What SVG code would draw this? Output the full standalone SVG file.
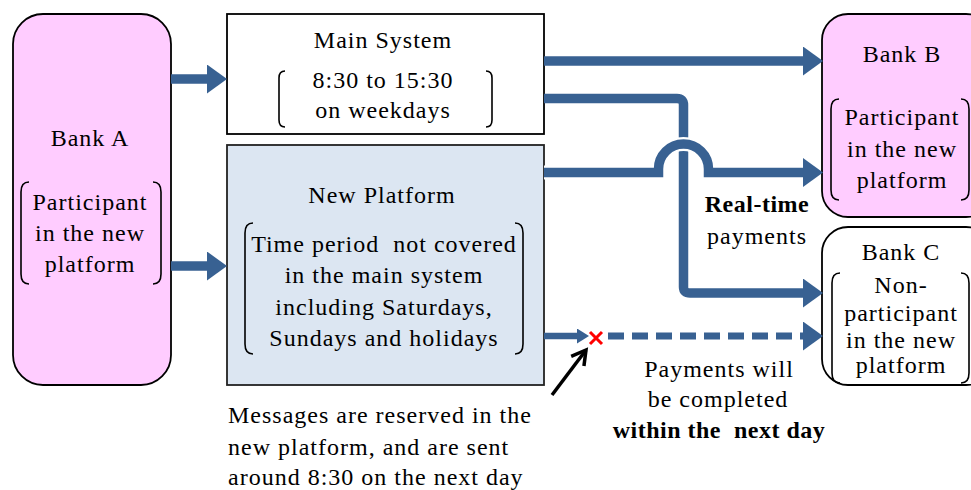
<svg xmlns="http://www.w3.org/2000/svg" width="971" height="490" viewBox="0 0 971 490">
<defs>
<style>
.t{font-family:"Liberation Serif","Times New Roman",serif;font-size:24px;letter-spacing:1px;fill:#000;text-anchor:middle}
.l{text-anchor:start}
.b{font-weight:bold;letter-spacing:0.5px}
.br{fill:none;stroke:#000;stroke-width:1.6}
.bank{stroke:#000;stroke-width:1.8}
.ln{fill:none;stroke:#386192;stroke-width:9.5}
</style>
<marker id="ah" markerUnits="userSpaceOnUse" markerWidth="20" markerHeight="30" refX="0" refY="14.5" orient="auto">
<path d="M0,0 L20,14.5 L0,29 z" fill="#386192"/>
</marker>
<marker id="ahs" markerUnits="userSpaceOnUse" markerWidth="12" markerHeight="16" refX="0" refY="7.5" orient="auto">
<path d="M0,0 L12,7.5 L0,15 z" fill="#386192"/>
</marker>
<marker id="ahk" markerUnits="userSpaceOnUse" markerWidth="20" markerHeight="22" refX="16" refY="10" orient="auto">
<path d="M2,2 L16,10 L2,18" fill="none" stroke="#000" stroke-width="3.5"/>
</marker>
</defs>
<rect width="971" height="490" fill="#fff"/>

<g id="bankA">
<rect class="bank" x="13" y="14" width="158" height="371" rx="30" fill="#FFCCFF"/>
<text class="t" x="90" y="146">Bank A</text>
<path class="br" d="M29,182 Q21,182 21,192 V274 Q21,284 29,284"/>
<path class="br" d="M153,182 Q161,182 161,192 V274 Q161,284 153,284"/>
<text class="t" x="90" y="210">Participant</text>
<text class="t" x="90" y="241">in the new</text>
<text class="t" x="90" y="272">platform</text>
</g>

<g id="mainSystem">
<rect x="227" y="14" width="317" height="120" fill="#fff" stroke="#000" stroke-width="1.8"/>
<text class="t" x="383" y="48">Main System</text>
<path class="br" d="M285,71 Q279,71 279,78 V120 Q279,127 285,127"/>
<path class="br" d="M486,71 Q492,71 492,78 V120 Q492,127 486,127"/>
<text class="t" x="383" y="88">8:30 to 15:30</text>
<text class="t" x="383" y="118">on weekdays</text>
</g>

<g id="newPlatform">
<rect x="227" y="145" width="317" height="240" fill="#DCE6F2" stroke="#222" stroke-width="1.8"/>
<text class="t" x="382" y="203">New Platform</text>
<path class="br" d="M253,223 Q245,223 245,233 V344 Q245,354 253,354"/>
<path class="br" d="M515,223 Q523,223 523,233 V344 Q523,354 515,354"/>
<text class="t" x="384" y="252" xml:space="preserve">Time period  not covered</text>
<text class="t" x="384" y="283">in the main system</text>
<text class="t" x="384" y="315">including Saturdays,</text>
<text class="t" x="384" y="346">Sundays and holidays</text>
</g>

<g id="bankB">
<rect class="bank" x="822" y="14" width="170" height="203" rx="26" fill="#FFCCFF"/>
<text class="t" x="902" y="62">Bank B</text>
<path class="br" d="M839,99 Q831,99 831,109 V190 Q831,200 839,200"/>
<path class="br" d="M961,99 Q969,99 969,109 V190 Q969,200 961,200"/>
<text class="t" x="902" y="125">Participant</text>
<text class="t" x="902" y="157">in the new</text>
<text class="t" x="902" y="188">platform</text>
</g>

<g id="bankC">
<rect class="bank" x="822" y="227" width="170" height="158" rx="26" fill="#fff"/>
<text class="t" x="901" y="260">Bank C</text>
<path class="br" d="M840,273 Q832,273 832,283 V373 Q832,383 840,383"/>
<path class="br" d="M961,273 Q969,273 969,283 V373 Q969,383 961,383"/>
<text class="t" x="901" y="293">Non-</text>
<text class="t" x="901" y="321">participant</text>
<text class="t" x="901" y="348">in the new</text>
<text class="t" x="901" y="373">platform</text>
</g>

<g id="connectors">
<path class="ln" d="M171,79 H207" marker-end="url(#ah)"/>
<path class="ln" d="M171,266 H207" marker-end="url(#ah)"/>
<path class="ln" d="M544,61 H803" marker-end="url(#ah)"/>
<path class="ln" d="M544,98.5 H677 Q683.5,98.5 683.5,105 V287 Q683.5,293 690,293 H803" marker-end="url(#ah)"/>
<path d="M544,172.5 H658.5 V169 A25,25 0 0 1 708.5,169 V172.5 H803" fill="none" stroke="#fff" stroke-width="14"/>
<path class="ln" d="M544,172.5 H658.5 V169 A25,25 0 0 1 708.5,169 V172.5 H803" marker-end="url(#ah)"/>
<path d="M544,336 H577" fill="none" stroke="#386192" stroke-width="6.5" marker-end="url(#ahs)"/>
<path d="M608,336 H803" fill="none" stroke="#386192" stroke-width="7" stroke-dasharray="16 8" marker-end="url(#ah)"/>
<path d="M590,332 L602,344 M602,332 L590,344" stroke="#FF0000" stroke-width="3"/>
<path d="M552,395 L586,350" fill="none" stroke="#000" stroke-width="3.5" marker-end="url(#ahk)"/>
</g>

<g id="labels">
<text class="t b" x="757" y="212">Real-time</text>
<text class="t" x="757" y="244">payments</text>
<text class="t" x="719" y="377">Payments will</text>
<text class="t" x="718" y="407">be completed</text>
<text class="t b" x="719" y="438" xml:space="preserve">within the  next day</text>
<text class="t l" x="228" y="423">Messages are reserved in the</text>
<text class="t l" x="228" y="455">new platform, and are sent</text>
<text class="t l" x="228" y="485">around 8:30 on the next day</text>
</g>
</svg>
